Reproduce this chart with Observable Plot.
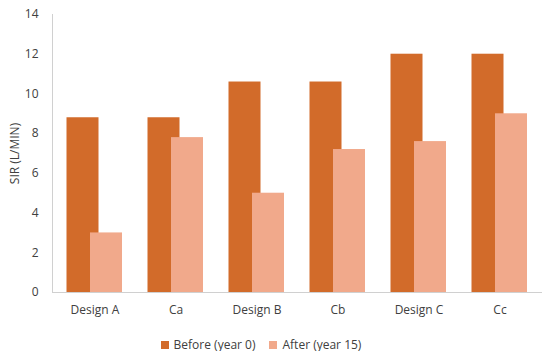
<!DOCTYPE html>
<html><head><meta charset="utf-8">
<script src="https://cdn.jsdelivr.net/npm/d3@7"></script>
<script src="https://cdn.jsdelivr.net/npm/@observablehq/plot@0.6"></script>
<style>
body{margin:0;background:#fff;font-family:"Open Sans",sans-serif;overflow:hidden;}
#chart svg{display:block;}
#legend{height:13px;line-height:13px;display:flex;justify-content:center;align-items:center;font-size:12px;color:#404040;padding-right:28px;}
#legend span.sw{display:inline-block;width:8px;height:8px;margin-right:5px;}
#legend .item{display:flex;align-items:center;margin:0 7px;}
</style></head>
<body><div id="chart"></div>
<div id="legend"></div>
<script>
const categories = ["Design A","Ca","Design B","Cb","Design C","Cc"];
const before = [8.8, 8.8, 10.6, 10.6, 12, 12];
const after = [3.0, 7.8, 5.0, 7.2, 7.6, 9.0];
const seriesNames = ["Before (year 0)","After (year 15)"];
const colors = ["#D26B2A","#F1A98B"];
const yTicks = [0,2,4,6,8,10,12,14];

const beforeData = categories.map((c,i)=>({c, v: before[i]}));
const afterData = categories.map((c,i)=>({c, v: after[i]}));

const plot = Plot.plot({
  width: 550, height: 338,
  marginTop: 14, marginLeft: 52, marginRight: 8, marginBottom: 46,
  style: {fontFamily: "Open Sans, sans-serif", fontSize: "12px", color: "#404040"},
  x: {domain: categories, padding: 0, tickSize: 0, tickPadding: 13, label: null},
  y: {domain: [0,14], ticks: yTicks, tickSize: 0, tickPadding: 14, label: "SIR (L/MIN)", labelAnchor: "center", labelOffset: 42, labelArrow: "none"},
  marks: [
    Plot.barY(beforeData, {x: "c", y: "v", fill: colors[0], insetLeft: 24.5, insetRight: 24.5, dx: -12}),
    Plot.barY(afterData, {x: "c", y: "v", fill: colors[1], insetLeft: 24.5, insetRight: 24.5, dx: 11.5}),
    Plot.ruleY([0], {stroke: "#d0d0d0", strokeWidth: 1}),
    Plot.frame({anchor: "left", stroke: "#d0d0d0"})
  ]
});
document.getElementById("chart").appendChild(plot);
const lg = document.getElementById("legend");
seriesNames.forEach((n,i)=>{
  const it = document.createElement("div"); it.className="item";
  const sw = document.createElement("span"); sw.className="sw"; sw.style.background=colors[i];
  it.appendChild(sw); it.appendChild(document.createTextNode(n)); lg.appendChild(it);
});
</script></body></html>
